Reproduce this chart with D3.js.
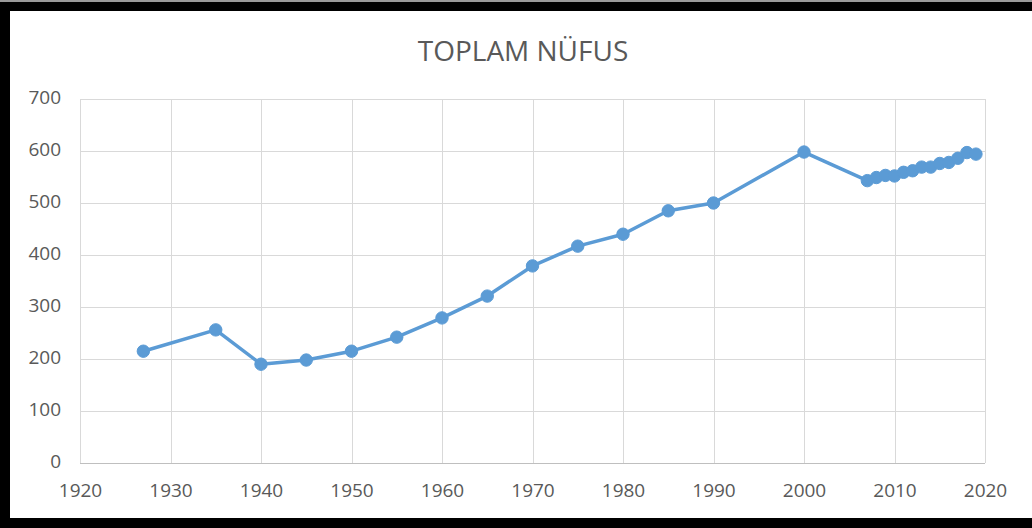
<!DOCTYPE html>
<html>
<head>
<meta charset="utf-8">
<script src="https://cdn.jsdelivr.net/npm/d3@7/dist/d3.min.js"></script>
<style>
  html, body { margin: 0; padding: 0; background: #fff; }
  svg { display: block; }
  text { font-family: "Open Sans", "Noto Sans", sans-serif; }
</style>
</head>
<body>
<svg id="chart" width="1032" height="528"></svg>
<script>
const title = "TOPLAM NÜFUS";
const years = [1927, 1935, 1940, 1945, 1950, 1955, 1960, 1965, 1970, 1975, 1980, 1985, 1990, 2000,
  2007, 2008, 2009, 2010, 2011, 2012, 2013, 2014, 2015, 2016, 2017, 2018, 2019];
const population = [215, 256, 190, 198, 215, 242, 279, 321, 379, 417, 440, 485, 500, 598,
  543, 549, 553, 552, 559, 562, 569, 569, 576, 578, 586, 597, 594];
const xTicks = [1920, 1930, 1940, 1950, 1960, 1970, 1980, 1990, 2000, 2010, 2020];
const yTicks = [0, 100, 200, 300, 400, 500, 600, 700];

const svg = d3.select("#chart");
const W = 1032, H = 528;

// frame
svg.append("rect").attr("x", 0).attr("y", 0).attr("width", W).attr("height", H).attr("fill", "#000");
svg.append("rect").attr("x", 0).attr("y", 0).attr("width", W).attr("height", 2).attr("fill", "#9a9a9a");
svg.append("rect").attr("x", 10).attr("y", 11).attr("width", W - 10).attr("height", 507).attr("fill", "#fff");

const x = d3.scaleLinear().domain([1920, 2020]).range([80, 985]);
const y = d3.scaleLinear().domain([0, 700]).range([463, 99]);

// gridlines
const g = svg.append("g");
g.selectAll("line.v").data(xTicks).join("line")
  .attr("x1", d => Math.round(x(d)) + 0.5).attr("x2", d => Math.round(x(d)) + 0.5)
  .attr("y1", y(700)).attr("y2", y(0))
  .attr("stroke", "#d9d9d9").attr("stroke-width", 1);
g.selectAll("line.h").data(yTicks).join("line")
  .attr("x1", x(1920)).attr("x2", x(2020))
  .attr("y1", d => Math.round(y(d)) + 0.5).attr("y2", d => Math.round(y(d)) + 0.5)
  .attr("stroke", d => d === 0 ? "#bfbfbf" : "#d9d9d9").attr("stroke-width", 1);

// axes (labels only)
const xAxis = d3.axisBottom(x).tickValues(xTicks).tickFormat(d3.format("d")).tickSize(0).tickPadding(0);
const yAxis = d3.axisLeft(y).tickValues(yTicks).tickFormat(d3.format("d")).tickSize(0).tickPadding(0);

const gx = svg.append("g").attr("transform", "translate(0,497)").call(xAxis);
gx.select(".domain").remove();
gx.selectAll("text").attr("dy", 0).attr("y", 0)
  .attr("font-size", 19).attr("fill", "#595959").attr("font-family", "Open Sans");

const gy = svg.append("g").attr("transform", "translate(61,0)").call(yAxis);
gy.select(".domain").remove();
gy.selectAll("text").attr("x", 0).attr("dy", "0.3em")
  .attr("font-size", 19).attr("fill", "#595959").attr("font-family", "Open Sans")
  .attr("transform", "translate(0,-1)");

// title
svg.append("text").attr("x", 523).attr("y", 61).attr("text-anchor", "middle")
  .attr("font-size", 28).attr("fill", "#595959").text(title);

// line
const data = years.map((yr, i) => ({ yr, v: population[i] }));
const line = d3.line().x(d => x(d.yr)).y(d => y(d.v));
svg.append("path").datum(data).attr("d", line)
  .attr("fill", "none").attr("stroke", "#5b9bd5").attr("stroke-width", 3.5)
  .attr("stroke-linejoin", "round").attr("stroke-linecap", "round");

svg.selectAll("circle.pt").data(data).join("circle")
  .attr("class", "pt")
  .attr("cx", d => x(d.yr)).attr("cy", d => y(d.v)).attr("r", 6.2)
  .attr("fill", "#5b9bd5").attr("stroke", "#5b9bd5").attr("stroke-width", 1);
</script>
</body>
</html>
